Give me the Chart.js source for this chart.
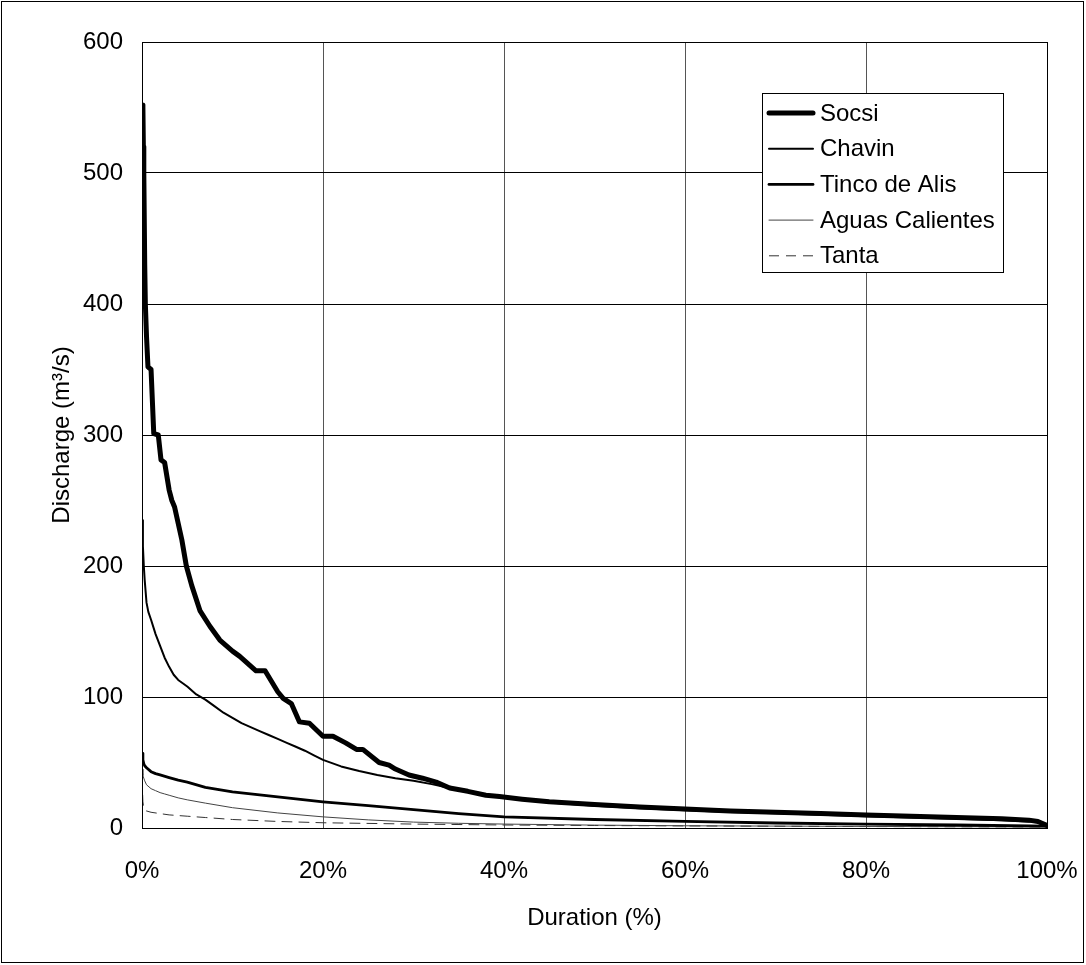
<!DOCTYPE html>
<html>
<head>
<meta charset="utf-8">
<title>Flow duration curves</title>
<script src="https://cdn.jsdelivr.net/npm/chart.js"></script>
<style>
  html, body { margin: 0; padding: 0; background: #fff; }
  canvas { display: block; }
</style>
</head>
<body>
<canvas id="chart" width="1086" height="965"></canvas>
<script>
// duration (%) / discharge (m3/s)
var socsiDur = [0, 0.1, 0.15, 0.2, 0.3, 0.37, 0.5, 0.66, 1, 1.3, 1.8, 2.1, 2.5, 3, 3.3, 3.6, 4.4, 4.9, 5.5, 6.4, 7.5, 8.6, 10, 10.8, 12.6, 13.6, 15, 15.6, 16.5, 17.4, 18.5, 20, 21.1, 22.5, 23.7, 24.4, 26.2, 27.3, 28, 29.5, 31, 32.5, 34, 36, 38, 39.5, 42, 45, 50, 55, 60, 65, 70, 75, 80, 85, 90, 95, 98, 99, 100];
var socsiQ = [552, 550, 520, 500, 430, 400, 375, 352, 350, 301, 300, 281, 279, 258, 250, 245, 220, 200, 185, 166, 154, 143.5, 135, 131, 120, 120, 104, 99, 95, 81, 80, 70, 70, 65, 60, 60, 50, 48, 45, 40.5, 38, 35, 30.5, 28, 25, 24, 22, 20, 18, 16, 14.5, 13, 12, 11, 10, 9, 8, 7, 6, 5, 2];

var chavinDur = [0, 0.1, 0.2, 0.3, 0.5, 0.7, 1, 1.5, 2, 2.5, 3, 3.5, 4, 5, 6, 7, 8, 9, 10, 11, 12, 13, 14, 15, 16, 17, 18, 19, 20, 21, 22, 24, 26, 28, 30, 32, 34, 36, 38, 40, 45, 50, 55, 60, 65, 70, 75, 80, 85, 90, 95, 98, 99, 100];
var chavinQ = [235, 215, 200, 189, 172, 165, 159, 148, 139, 130, 123, 117, 113, 108, 102, 98, 93, 88, 84, 80, 77, 74, 71, 68, 65, 62, 59, 55.5, 52, 49.5, 47, 43.5, 40.5, 38, 36, 33.5, 30.5, 28, 25.5, 23.5, 19.5, 17, 15, 13.5, 12.3, 11.3, 10.2, 9, 8, 7, 6, 5, 4.5, 3];

var tincoDur = [0, 0.1, 0.2, 0.3, 0.5, 1, 1.5, 2, 3, 4, 5, 7, 10, 14, 20, 25, 30, 35, 40, 50, 60, 70, 80, 90, 100];
var tincoQ = [57, 52, 49, 47.5, 46, 43, 41.5, 40.5, 38.5, 36.5, 35, 31, 27.5, 24.5, 20, 17, 14, 11, 8.5, 6.5, 5, 3.8, 3, 2.3, 1.5];

var aguasDur = [0, 0.1, 0.3, 0.5, 1, 1.5, 2, 2.5, 3, 4, 5, 7, 10, 15, 20, 25, 30, 35, 40, 50, 60, 80, 100];
var aguasQ = [45, 40, 36, 33, 30, 28.5, 27, 26, 25, 23, 21.5, 19, 15.5, 11.5, 8.5, 6.2, 4.5, 3.6, 3, 2.2, 1.7, 1.2, 0.8];

var tantaDur = [0, 0.1, 0.2, 0.5, 1, 2, 3, 5, 7, 10, 15, 20, 30, 40, 50, 60, 80, 100];
var tantaQ = [38, 20, 15, 13, 12, 11, 10, 9, 8, 6.5, 5, 4, 3, 2.3, 1.9, 1.6, 1.1, 0.8];

var durationTicks = [0, 20, 40, 60, 80, 100];
var dischargeTicks = [0, 100, 200, 300, 400, 500, 600];

function pairs(xs, ys) {
  return xs.map(function (x, i) { return { x: x, y: ys[i] }; });
}

var FONT = "'Liberation Sans', Arial, sans-serif";
Chart.defaults.font.family = FONT;
Chart.defaults.font.size = 24;
Chart.defaults.color = "#000";

// legend box drawn inside the plot, like the original
var boxLegend = {
  id: "boxLegend",
  afterDraw: function (chart) {
    var ctx = chart.ctx;
    var x = 762, y = 93, w = 241, h = 179, row = 35.7;
    ctx.save();
    ctx.fillStyle = "#fff";
    ctx.fillRect(x, y, w, h);
    ctx.strokeStyle = "#000";
    ctx.lineWidth = 1;
    ctx.strokeRect(x + 0.5, y + 0.5, w, h);
    ctx.font = "24px " + FONT;
    ctx.textBaseline = "middle";
    ctx.fillStyle = "#000";
    chart.data.datasets.forEach(function (ds, i) {
      var cy = y + 20 + i * row;
      ctx.beginPath();
      ctx.strokeStyle = ds.borderColor;
      ctx.lineWidth = ds.borderWidth;
      ctx.setLineDash(ds.borderDash || []);
      ctx.lineCap = ds.borderDash ? "butt" : "round";
      ctx.moveTo(x + 7, cy);
      ctx.lineTo(x + 51, cy);
      ctx.stroke();
      ctx.setLineDash([]);
      ctx.fillText(ds.label, x + 58, cy + 1);
    });
    ctx.restore();
  }
};

var frame = {
  id: "frame",
  beforeDraw: function (chart) {
    var ctx = chart.ctx;
    ctx.save();
    ctx.fillStyle = "#fff";
    ctx.fillRect(0, 0, chart.width, chart.height);
    ctx.strokeStyle = "#000";
    ctx.lineWidth = 1;
    ctx.strokeRect(1.5, 1.5, 1082, 961);
    ctx.restore();
  },
  afterDatasetsDraw: function (chart) {
    var a = chart.chartArea, ctx = chart.ctx;
    ctx.save();
    ctx.strokeStyle = "#000";
    ctx.lineWidth = 1;
    ctx.strokeRect(Math.round(a.left) + 0.5, Math.round(a.top) + 0.5, Math.round(a.right - a.left), Math.round(a.bottom - a.top));
    ctx.restore();
  }
};

var ctx = document.getElementById("chart").getContext("2d");
var myChart = new Chart(ctx, {
  type: "scatter",
  data: {
    datasets: [
      { label: "Socsi", data: pairs(socsiDur, socsiQ), borderColor: "#000", borderWidth: 5 },
      { label: "Chavin", data: pairs(chavinDur, chavinQ), borderColor: "#000", borderWidth: 2 },
      { label: "Tinco de Alis", data: pairs(tincoDur, tincoQ), borderColor: "#000", borderWidth: 2.8 },
      { label: "Aguas Calientes", data: pairs(aguasDur, aguasQ), borderColor: "#444", borderWidth: 1 },
      { label: "Tanta", data: pairs(tantaDur, tantaQ), borderColor: "#333", borderWidth: 1, borderDash: [10, 7] }
    ]
  },
  options: {
    responsive: false,
    animation: false,
    devicePixelRatio: 1,
    showLine: true,
    elements: {
      point: { radius: 0, hoverRadius: 0 },
      line: { tension: 0, borderJoinStyle: "round", borderCapStyle: "round" }
    },
    layout: { padding: { left: 0, right: 39, top: 42, bottom: 0 } },
    plugins: {
      legend: { display: false },
      tooltip: { enabled: false }
    },
    scales: {
      x: {
        type: "linear",
        min: 0,
        max: 100,
        afterFit: function (scale) {
          scale.height = 137;
          scale.paddingLeft = 0;
          scale.paddingRight = 0;
        },
        afterBuildTicks: function (scale) {
          scale.ticks = durationTicks.map(function (v) { return { value: v }; });
        },
        ticks: {
          padding: 29,
          maxRotation: 0,
          callback: function (v) { return v + "%"; }
        },
        grid: { color: "#555", lineWidth: 1, drawTicks: false },
        border: { color: "#000", width: 1 },
        title: { display: true, text: "Duration (%)", padding: { top: 0, bottom: 32 } }
      },
      y: {
        min: 0,
        max: 600,
        afterFit: function (scale) {
          scale.width = 142;
          scale.paddingTop = 0;
          scale.paddingBottom = 0;
        },
        afterBuildTicks: function (scale) {
          scale.ticks = dischargeTicks.map(function (v) { return { value: v }; });
        },
        ticks: { padding: 19 },
        grid: { color: "#000", lineWidth: 1, drawTicks: false },
        border: { color: "#000", width: 1 },
        title: { display: true, text: "Discharge (m³/s)", padding: { top: 48, bottom: 0 } }
      }
    }
  },
  plugins: [frame, boxLegend]
});
</script>
</body>
</html>
